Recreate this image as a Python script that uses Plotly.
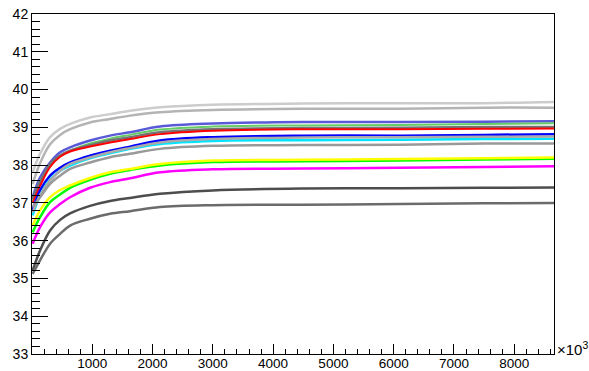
import plotly.graph_objects as go

x = [10, 134, 300, 466, 632, 963, 1295, 1627, 2125, 3000, 4500, 6100, 7500, 8660]

light_top = [37.81, 38.30, 38.74, 38.96, 39.09, 39.26, 39.35, 39.44, 39.53, 39.60, 39.63, 39.64, 39.64, 39.67]
light_2nd = [37.50, 38.05, 38.55, 38.80, 38.95, 39.13, 39.22, 39.31, 39.40, 39.46, 39.49, 39.49, 39.52, 39.52]
purple = [37.15, 37.68, 38.07, 38.34, 38.47, 38.65, 38.78, 38.87, 39.02, 39.10, 39.14, 39.14, 39.15, 39.16]
green_top = [37.05, 37.58, 37.98, 38.25, 38.38, 38.57, 38.70, 38.80, 38.94, 39.02, 39.05, 39.06, 39.09, 39.11]
dark_gray = [37.10, 37.55, 38.03, 38.25, 38.38, 38.53, 38.65, 38.74, 38.87, 38.95, 38.98, 38.99, 39.01, 39.01]
red = [37.00, 37.45, 37.95, 38.22, 38.36, 38.49, 38.60, 38.69, 38.82, 38.91, 38.95, 38.95, 38.96, 38.97]
blue = [36.80, 37.33, 37.72, 37.93, 38.07, 38.25, 38.38, 38.49, 38.65, 38.74, 38.78, 38.78, 38.80, 38.82]
smooth_gray = [36.75, 37.20, 37.59, 37.85, 38.03, 38.20, 38.34, 38.45, 38.60, 38.69, 38.73, 38.74, 38.75, 38.76]
cyan = [36.67, 37.20, 37.62, 37.85, 37.99, 38.18, 38.31, 38.43, 38.56, 38.64, 38.66, 38.67, 38.69, 38.70]
mid_gray = [36.90, 37.15, 37.50, 37.72, 37.90, 38.07, 38.21, 38.30, 38.43, 38.51, 38.53, 38.54, 38.57, 38.57]
yellow = [36.40, 36.80, 37.15, 37.34, 37.46, 37.66, 37.81, 37.90, 38.03, 38.12, 38.14, 38.16, 38.18, 38.20]
green = [36.22, 36.62, 37.02, 37.22, 37.40, 37.61, 37.77, 37.87, 37.99, 38.08, 38.10, 38.12, 38.15, 38.17]
magenta = [35.92, 36.36, 36.75, 36.97, 37.15, 37.40, 37.55, 37.65, 37.81, 37.89, 37.91, 37.93, 37.95, 37.97]
dark_gray2 = [35.21, 35.74, 36.27, 36.55, 36.72, 36.92, 37.05, 37.13, 37.24, 37.33, 37.38, 37.39, 37.40, 37.41]
gray_bottom = [35.12, 35.48, 35.92, 36.18, 36.40, 36.58, 36.71, 36.78, 36.89, 36.94, 36.95, 36.97, 36.99, 37.00]

x_tick_vals = [1000, 2000, 3000, 4000, 5000, 6000, 7000, 8000]
x_tick_text = ["1000", "2000", "3000", "4000", "5000", "6000", "7000", "8000"]

series = [
    (light_top, "#cccccc", 2.5),
    (light_2nd, "#b4b4b4", 2.5),
    (purple, "#5a5ad8", 2.5),
    (green_top, "#66cc66", 2.0),
    (dark_gray, "#737373", 2.5),
    (red, "#ff0000", 2.0),
    (blue, "#0000ff", 2.5),
    (cyan, "#00e5ff", 2.5),
    (smooth_gray, "#aaaaaa", 2.5),
    (mid_gray, "#999999", 2.5),
    (green, "#00ff00", 2.5),
    (yellow, "#ffff00", 2.5),
    (magenta, "#ff00ff", 2.5),
    (dark_gray2, "#4d4d4d", 2.5),
    (gray_bottom, "#6b6b6b", 2.5),
]

fig = go.Figure()
for ys, col, w in series:
    fig.add_trace(go.Scatter(x=x, y=ys, mode="lines", line=dict(color=col, width=w, shape="spline"),
                             showlegend=False, hoverinfo="skip"))

font = dict(family="Liberation Sans, Arial, sans-serif", size=14, color="black")

fig.update_layout(
    width=589, height=371,
    margin=dict(l=32, r=35, t=14, b=17, autoexpand=False),
    paper_bgcolor="white", plot_bgcolor="white",
    font=font,
    xaxis=dict(range=[0, 8660], tickvals=x_tick_vals, ticktext=x_tick_text,
               ticks="inside", ticklen=10, tickcolor="black", tickwidth=1, automargin=False,
               ticklabelstandoff=-3,
               minor=dict(dtick=200, tick0=0, ticks="inside", ticklen=5, tickcolor="black", tickwidth=1),
               showgrid=False, zeroline=False, showline=True, linecolor="black", linewidth=1, mirror=True,
               tickfont=dict(family="Liberation Sans, Arial, sans-serif", size=13.5, color="black")),
    yaxis=dict(range=[33, 42], dtick=1, tick0=33, automargin=False,
               ticks="inside", ticklen=16, tickcolor="black", tickwidth=1,
               minor=dict(dtick=0.2, tick0=33, ticks="inside", ticklen=8, tickcolor="black", tickwidth=1),
               showgrid=False, zeroline=False, showline=True, linecolor="black", linewidth=1, mirror=True,
               tickfont=font),
    annotations=[dict(text="×10<sup>3</sup>", xref="paper", yref="paper", x=1, y=0,
                      xanchor="left", yanchor="bottom", xshift=1, yshift=-6, showarrow=False,
                      font=dict(family="Liberation Sans, Arial, sans-serif", size=15, color="black"))],
)

fig.write_html("out.html")
